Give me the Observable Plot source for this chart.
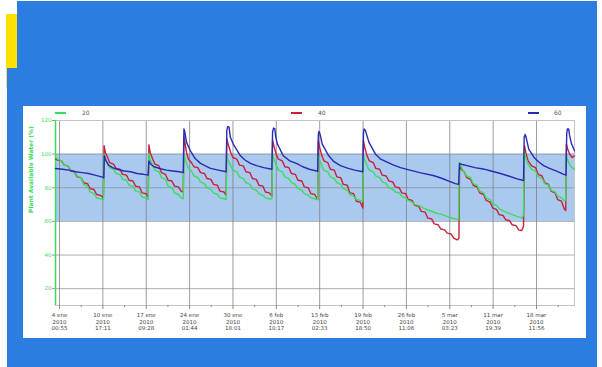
<!DOCTYPE html>
<html><head><meta charset="utf-8">
<script src="https://cdn.jsdelivr.net/npm/d3@7"></script>
<script src="https://cdn.jsdelivr.net/npm/@observablehq/plot@0.6"></script>
<style>
html,body{margin:0;padding:0;background:#fff;width:602px;height:367px;overflow:hidden;font-family:"DejaVu Sans",sans-serif;}
.abs{position:absolute;}
</style></head>
<body>
<div class="abs" style="left:17px;top:1px;width:580px;height:366px;background:#2c7de0"></div>
<div class="abs" style="left:7px;top:68px;width:10px;height:299px;background:#2c7de0"></div>
<div class="abs" style="left:6px;top:14px;width:11px;height:54px;background:#ffe000"></div>
<div class="abs" style="left:6px;top:68px;width:1px;height:20px;background:#f2df70"></div>
<div id="panel" class="abs" style="left:23px;top:106px;width:563px;height:232px;background:#fff"></div>
<div id="legend" class="abs" style="left:0;top:0"></div>
<script>
// ---- data (x = days since 2010-01-01 00:00 UTC, y = % plant available water)
const series = ["20", "40", "60"];
const seriesColors = ["#3ddc5a", "#c8203a", "#2a2ab4"];

const green20 = [
[2.42,98],[2.75,97],[3.35,96],[3.75,93.5],[4.35,93],[4.75,90.5],[5.35,90],[5.75,87],[6.35,86],[6.75,82],[7.35,81],[7.75,77.5],[8.35,76.5],[8.75,74],[9.35,73.5],[9.8,73],
[9.9,100],[10.1,97],[10.45,94],[10.75,92],[11.35,91],[11.75,88.5],[12.35,88],[12.75,85],[13.35,84.5],[13.75,81.5],[14.35,81],[14.75,78],[15.35,77.5],[15.75,74.5],[16.35,74],[16.7,73],
[16.8,100.5],[17.0,97],[17.4,93],[17.75,90.5],[18.35,89.5],[18.75,86],[19.35,85],[19.75,81],[20.35,80],[20.75,77],[21.35,76],[21.75,74],[22.1,73.5],
[22.2,100],[22.45,96],[22.8,92],[23.35,90],[23.75,87],[24.35,86],[24.75,83.5],[25.35,82.5],[25.75,80],[26.35,79],[26.75,77],[27.35,76],[27.75,74],[28.35,73.5],[28.7,73],
[28.8,99],[29.05,96],[29.4,93],[29.75,90.5],[30.35,89.5],[30.75,86.5],[31.35,85.5],[31.75,83],[32.35,82],[32.75,79.5],[33.35,78.5],[33.75,76.5],[34.35,75.5],[34.75,74],[35.35,73.5],[35.75,73.5],
[35.85,100],[36.1,96.5],[36.45,93],[36.75,90.5],[37.35,89.5],[37.75,86.5],[38.35,85.5],[38.75,83],[39.35,82],[39.75,79.5],[40.35,78.5],[40.75,76.5],[41.35,75.5],[41.75,74],[42.35,73.5],[42.8,73],
[42.9,99],[43.15,96],[43.5,92.5],[43.75,90.5],[44.35,89.5],[44.75,86.5],[45.35,85.5],[45.75,83],[46.35,82],[46.75,79.5],[47.35,78.5],[47.75,76],[48.35,75],[48.75,73],[49.35,72.5],[49.75,72],
[49.85,99],[50.1,96],[50.45,92.5],[50.75,90.5],[51.35,89.5],[51.75,87],[52.35,86],[52.75,83.5],[53.35,82.5],[53.75,80],[54.35,79],[54.75,77.5],[55.35,77],[55.75,75],[56.35,74],[56.75,72.5],[57.35,71.5],[57.75,70],[58.35,69.5],[59.0,68],[60.0,66.5],[61.0,65],[62.0,64],[63.0,62.5],[64.0,61.5],[64.5,61],
[64.6,95],[64.85,93],[65.2,90],[65.75,87],[66.35,86],[66.75,82.5],[67.35,81.5],[67.75,78],[68.35,77],[68.75,74],[69.35,73],[69.75,70.5],[70.35,69.5],[70.75,67.5],[71.5,66],[72.5,64.5],[73.5,63],[74.3,62],[74.5,64],
[74.6,102],[74.85,98],[75.2,94],[75.75,91],[76.35,90],[76.75,86.5],[77.35,85.5],[77.75,82.5],[78.35,81.5],[78.75,78.5],[79.35,77.5],[79.75,75],[80.35,74],[80.75,72.5],[81.0,72.5],
[81.1,99],[81.35,96],[81.7,93],[82.0,92],[82.35,91]
];

const red40 = [
[2.42,97],[2.75,96.5],[3.35,96],[3.75,93.5],[4.35,93],[4.75,90],[5.35,89.5],[5.75,86.5],[6.35,86],[6.75,83],[7.35,82.5],[7.75,79.5],[8.35,79],[8.75,76],[9.35,75.5],[9.8,74],
[9.9,105],[10.1,101],[10.45,98],[10.75,95],[11.35,94],[11.75,91.5],[12.35,91],[12.75,88],[13.35,87.5],[13.75,84.5],[14.35,84],[14.75,81],[15.35,80.5],[15.75,77],[16.35,76.5],[16.7,74.5],
[16.8,105.5],[17.0,101],[17.4,97],[17.75,94],[18.35,93],[18.75,89],[19.35,88],[19.75,84.5],[20.35,84],[20.75,81],[21.35,80.5],[21.75,78],[22.1,77.5],
[22.2,110.5],[22.35,107],[22.6,101],[22.9,97],[23.35,95],[23.75,92.5],[24.35,92],[24.75,89],[25.35,88.5],[25.75,85.5],[26.35,85],[26.75,82],[27.35,81.5],[27.75,78],[28.35,77.5],[28.7,75.5],
[28.8,109.5],[29.0,106],[29.4,101],[29.75,98],[30.35,97],[30.75,93.5],[31.35,93],[31.75,89.5],[32.35,89],[32.75,85.5],[33.35,85],[33.75,81.5],[34.35,81],[34.75,77.5],[35.35,77],[35.75,75],
[35.85,108.5],[36.05,105],[36.4,100],[36.75,97],[37.35,96],[37.75,92.5],[38.35,92],[38.75,88.5],[39.35,88],[39.75,84.5],[40.35,84],[40.75,80.5],[41.35,80],[41.75,76.5],[42.35,76],[42.8,73],
[42.9,108],[43.1,104],[43.45,99],[43.75,96],[44.35,95],[44.75,91],[45.35,90.5],[45.75,86.5],[46.35,86],[46.75,82],[47.35,81.5],[47.75,77],[48.35,76.5],[48.75,72],[49.35,71.5],[49.75,68],
[49.85,108],[50.05,104],[50.4,99],[50.75,96],[51.35,95],[51.75,91.5],[52.35,91],[52.75,87.5],[53.35,87],[53.75,84],[54.35,83.5],[54.75,80.5],[55.35,80],[55.75,77],[56.35,76.5],[56.75,73],[57.35,72.5],[57.75,69.5],[58.35,69],[58.75,66],[59.35,65.5],[59.75,62],[60.35,61.5],[60.75,58.5],[61.35,58],[61.75,55.5],[62.35,55],[62.75,53],[63.35,52.5],[63.75,50],[64.3,49],[64.55,50],
[64.65,93],[64.9,91],[65.35,89.5],[65.75,86],[66.35,85],[66.75,81.5],[67.35,80.5],[67.75,77],[68.35,76],[68.75,72.5],[69.35,71.5],[69.75,68],[70.35,67],[70.75,64],[71.35,63.5],[71.75,61],[72.35,60.5],[72.75,58],[73.35,57.5],[73.75,55],[74.2,54.5],[74.5,57],
[74.65,105],[74.85,101],[75.2,96],[75.75,93],[76.35,92],[76.75,88],[77.35,87],[77.75,83],[78.35,82],[78.75,78],[79.35,77],[79.75,73],[80.35,72],[80.75,67.5],[81.0,66.5],
[81.1,106],[81.3,103],[81.6,100],[82.0,98],[82.35,99]
];

const blue60 = [
[2.42,91.5],[3.5,91],[4.5,90.5],[5.5,89.5],[6.5,89],[7.5,88.5],[8.5,87.5],[9.5,86.5],[9.85,86],
[9.95,99],[10.2,96],[10.6,93.5],[11.2,92],[11.9,91],[13,90],[14,89.5],[15,88.5],[16,88],[16.7,87.5],
[16.8,96],[17.1,94],[17.6,92.5],[18.6,91.3],[19.5,90.5],[20.5,90],[21.5,89.5],[22.1,89],
[22.2,115],[22.35,113],[22.6,107],[23.2,102],[23.9,97.5],[24.75,94.5],[25.5,93],[26.3,91.5],[27.5,90.5],[28.7,89.5],
[28.8,114],[28.95,116.5],[29.15,116],[29.35,110],[29.8,106],[30.9,99],[31.6,96.5],[32.45,94.5],[33.5,93],[34.5,92],[35.75,91],
[35.85,113],[36.0,115.5],[36.2,115],[36.35,110],[36.6,106],[37.5,99],[38.5,96],[39.6,94.4],[40.5,92.5],[41.5,91],[42.8,89.8],
[42.9,112],[43.0,113.5],[43.15,112],[43.5,106],[44.5,99],[45.3,95.5],[46.3,93.2],[47.5,91.5],[48.5,90.5],[49.75,89.5],
[49.85,113],[49.95,115],[50.15,114],[50.7,107],[51.7,100],[52.5,97],[53.5,95.2],[54.5,93.5],[55.55,92],[57,90.5],[58.5,89],[60.6,87.3],[62,85.5],[63,84],[64,82.5],[64.5,82],
[64.65,94.5],[64.9,94],[65.8,93.2],[67,92],[68.3,91.2],[69.5,90],[70.95,88.5],[72.2,87],[73.5,85.3],[74.5,84.3],
[74.6,110],[74.75,111.7],[74.9,110],[75.3,103],[76.1,98.2],[76.8,95.5],[77.6,93.2],[78.5,91.5],[79.5,90],[80.7,88],[81.05,87.5],
[81.15,112],[81.25,115],[81.45,115],[81.6,111],[81.9,106],[82.35,102]
];

const xDomainDays = [2.42, 82.35];
const yDomain = [10, 120];
const yTicks = [20, 40, 60, 80, 100, 120];
const band = [{lo: 60, hi: 100}];
const tickStamps = ["2010-01-04T00:55Z","2010-01-10T17:11Z","2010-01-17T09:28Z","2010-01-24T01:44Z","2010-01-30T18:01Z","2010-02-06T10:17Z","2010-02-13T02:33Z","2010-02-19T18:50Z","2010-02-26T11:06Z","2010-03-05T03:23Z","2010-03-11T19:39Z","2010-03-18T11:56Z"];
const tickDays = ["4 ene","10 ene","17 ene","24 ene","30 ene","6 feb","13 feb","19 feb","26 feb","5 mar","11 mar","18 mar"];
const tickYears = ["2010","2010","2010","2010","2010","2010","2010","2010","2010","2010","2010","2010"];
const tickTimes = ["00:55","17:11","09:28","01:44","18:01","10:17","02:33","18:50","11:06","03:23","19:39","11:56"];
const yLabel = "Plant Available Water (%)";

// ---- build
const base = Date.UTC(2010, 0, 1);
const toDate = d => new Date(base + d * 864e5);
const rows = [];
[green20, red40, blue60].forEach((arr, i) => arr.forEach(([d, v]) => rows.push({t: toDate(d), v, s: series[i]})));
const tickDates = tickStamps.map(s => new Date(s));
const minorDates = tickDates.slice(0, -1).map((d, i) => new Date((+d + +tickDates[i + 1]) / 2));
minorDates.unshift(new Date(+tickDates[0] - (tickDates[1] - tickDates[0]) / 2));
minorDates.push(new Date(+tickDates[tickDates.length - 1] + (tickDates[1] - tickDates[0]) / 2));
const xDomain = xDomainDays.map(toDate);
const GREEN = seriesColors[0];

const chart = Plot.plot({
  width: 563, height: 232,
  marginLeft: 32, marginRight: 12, marginTop: 14, marginBottom: 33,
  style: {fontFamily: "DejaVu Sans, sans-serif", background: "transparent", overflow: "visible"},
  x: {type: "utc", domain: xDomain},
  y: {domain: yDomain},
  marks: [
    Plot.rect(band, {y1: "lo", y2: "hi", fill: "#a9c9ef"}),
    Plot.gridY(yTicks, {stroke: "#8a8a8a", strokeOpacity: 0.7}),
    Plot.gridX(tickDates, {stroke: "#7d7d7d", strokeOpacity: 0.75}),
    Plot.frame({stroke: "#c4c4c4"}),
    Plot.ruleX([xDomain[0]], {stroke: GREEN, strokeWidth: 1.5}),
    Plot.axisY(yTicks, {tickSize: 3, fontSize: 5.5, fill: GREEN, stroke: "#999", label: null, tickPadding: 1}),
    Plot.axisX(tickDates, {tickSize: 4, tickPadding: 3, fontSize: 5.5, lineHeight: 1.2, fill: "#444", stroke: "#888", label: null,
      tickFormat: d => { const i = tickDates.findIndex(t => +t === +d); return i < 0 ? "" : `${tickDays[i]}\n${tickYears[i]}\n${tickTimes[i]}`; }}),
    Plot.axisX(minorDates.filter(d => d >= xDomain[0] && d <= xDomain[1]), {tickSize: 2, stroke: "#888", tickFormat: () => "", label: null}),
    Plot.line(rows.filter(r => r.s === "40"), {x: "t", y: "v", stroke: seriesColors[1], strokeWidth: 1.4}),
    Plot.line(rows.filter(r => r.s === "20"), {x: "t", y: "v", stroke: seriesColors[0], strokeWidth: 1.4}),
    Plot.line(rows.filter(r => r.s === "60"), {x: "t", y: "v", stroke: seriesColors[2], strokeWidth: 1.4}),
    Plot.text([yLabel], {frameAnchor: "left", dx: -24, rotate: -90, fill: GREEN, fontWeight: "bold", fontSize: 6})
  ]
});
const panel = document.getElementById("panel");
panel.appendChild(chart);

// legend
const legendPos = [[55, 82], [291, 318], [528, 554]];
const lg = document.getElementById("legend");
series.forEach((s, i) => {
  const [lx, tx] = legendPos[i];
  const ln = document.createElement("div");
  ln.className = "abs";
  ln.style.cssText = `left:${lx}px;top:112px;width:11px;height:2px;background:${seriesColors[i]}`;
  const tt = document.createElement("div");
  tt.className = "abs";
  tt.style.cssText = `left:${tx}px;top:109px;font-size:6px;color:#555;line-height:8px`;
  tt.textContent = s;
  lg.appendChild(ln); lg.appendChild(tt);
});
</script>
</body></html>
